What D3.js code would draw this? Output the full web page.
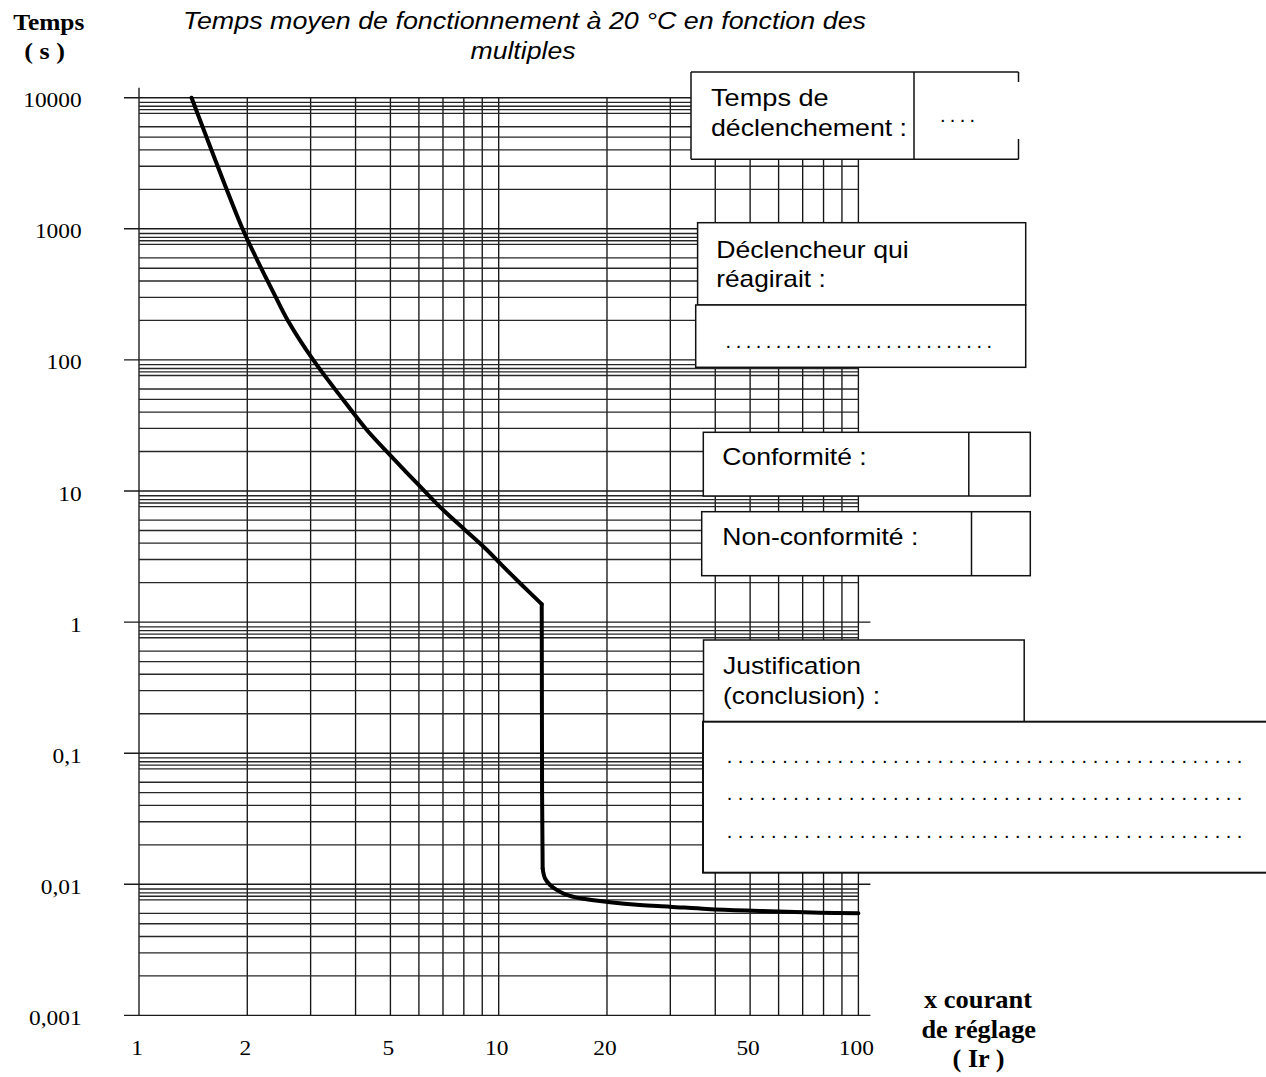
<!DOCTYPE html>
<html>
<head>
<meta charset="utf-8">
<script src="https://cdn.jsdelivr.net/npm/d3@7"></script>
<style>
  html, body { margin: 0; padding: 0; background: #fff; }
  svg { display: block; }
</style>
</head>
<body>
<svg id="chart" width="1266" height="1077"></svg>
<script>
// ---- Trip curve: multiple of setting current (x Ir) vs mean operating time (s) at 20 °C ----
const multiples = [1.40, 1.94, 2.11, 2.29, 2.40, 2.59, 3.05, 3.70, 4.30, 4.99, 6.11, 7.01, 8.06, 9.17, 10.3, 11.6,
                   13.17, 13.2, 13.25, 13.45, 13.89, 14.5, 15.45, 16.83, 20.4, 24.7, 29.9, 37.9, 48.9, 63.1, 78.2, 100];
const times     = [10000, 1000, 612, 388, 301, 201, 100, 49.4, 29.2, 18.8, 10.5, 7.16, 5.05, 3.66, 2.65, 1.92,
                   1.37, 0.05, 0.0132, 0.0111, 0.00988, 0.00906, 0.00829, 0.00782, 0.00729, 0.00695, 0.00675, 0.00648, 0.0063, 0.00618, 0.00607, 0.00601];
// index where the thermal branch ends and the instantaneous (magnetic) drop begins / ends
const thermalEnd = 16;
const magneticEnd = 18;

// ---- Axis ticks ----
const xTickValues = [1, 2, 5, 10, 20, 50, 100];
const xTickLabels = ["1", "2", "5", "10", "20", "50", "100"];
const yTickValues = [10000, 1000, 100, 10, 1, 0.1, 0.01, 0.001];
const yTickLabels = ["10000", "1000", "100", "10", "1", "0,1", "0,01", "0,001"];

// ---- Log-paper grid ----
const xGridValues = [1, 2, 3, 4, 5, 6, 7, 8, 9, 10, 20, 30, 40, 50, 60, 70, 80, 90, 100];
const decadeBases = [0.001, 0.01, 0.1, 1, 10, 100, 1000];
const minorSteps  = [2, 3, 4, 5, 6, 7.6, 8.1, 8.6, 9.2];

const svg = d3.select("#chart");

const x = d3.scaleLog().domain([1, 100]).range([139, 858.4]);
const y = d3.scaleLog().domain([10000, 0.001]).range([97.7, 1015.4]);

const SANS = "'Liberation Sans', Arial, Helvetica, sans-serif";
const SERIF = "'Liberation Serif', 'Times New Roman', Times, serif";

// text helper: fixed rendered width (textLength) with start/middle/end anchoring
function addText(g, str, o) {
  const t = g.append("text")
    .attr("font-family", o.family || SANS)
    .attr("font-size", o.size)
    .attr("font-weight", o.weight || "normal")
    .attr("font-style", o.style || "normal")
    .attr("fill", "#000")
    .attr("y", o.y)
    .text(str);
  let w = o.width;
  if (w == null) w = t.node().getComputedTextLength() * (o.stretch || 1);
  let x0 = o.x;
  if (o.anchor === "middle") x0 = o.x - w / 2;
  else if (o.anchor === "end") x0 = o.x - w;
  t.attr("x", x0)
   .attr("textLength", w)
   .attr("lengthAdjust", o.adjust || "spacingAndGlyphs");
  return t;
}

// ---------- grid ----------
const grid = svg.append("g").attr("class", "grid");

// vertical lines
grid.selectAll("line.v")
  .data(xGridValues)
  .join("line")
  .attr("class", "v")
  .attr("x1", d => x(d)).attr("x2", d => x(d))
  .attr("y1", d => d === 1 ? y(10000) - 10 : y(10000))
  .attr("y2", y(0.001))
  .attr("stroke", "#151515")
  .attr("stroke-width", 1.35);

// minor horizontal lines
const minorValues = decadeBases.flatMap(b => minorSteps.map(m => b * m));
grid.selectAll("line.hm")
  .data(minorValues)
  .join("line")
  .attr("class", "hm")
  .attr("x1", x(1)).attr("x2", x(100))
  .attr("y1", d => y(d)).attr("y2", d => y(d))
  .attr("stroke", "#262626")
  .attr("stroke-width", 1.35);

// major horizontal lines (with left tick stubs)
grid.selectAll("line.hM")
  .data(yTickValues)
  .join("line")
  .attr("class", "hM")
  .attr("x1", x(1) - 15).attr("x2", x(100) + 12)
  .attr("y1", d => y(d)).attr("y2", d => y(d))
  .attr("stroke", "#1a1a1a")
  .attr("stroke-width", 1.4);

// ---------- curve ----------
const pts = multiples.map((m, i) => [m, times[i]]);
const smooth = d3.line().x(d => x(d[0])).y(d => y(d[1])).curve(d3.curveCatmullRom.alpha(0.5));
const straight = d3.line().x(d => x(d[0])).y(d => y(d[1])).curve(d3.curveLinear);
const curveG = svg.append("g").attr("class", "trip-curve")
  .attr("fill", "none").attr("stroke", "#000").attr("stroke-width", 4)
  .attr("stroke-linejoin", "round").attr("stroke-linecap", "round");
curveG.append("path").attr("d", smooth(pts.slice(0, thermalEnd + 1)));
curveG.append("path").attr("d", straight(pts.slice(thermalEnd, magneticEnd + 1)));
curveG.append("path").attr("d", smooth(pts.slice(magneticEnd)));

// ---------- tick labels ----------
const yLab = svg.append("g").attr("class", "y-labels");
yTickValues.forEach((v, i) => {
  addText(yLab, yTickLabels[i], { x: 81.7, y: y(v) + 9.5, size: 20, family: SERIF, anchor: "end", stretch: 1.17 });
});
const xLab = svg.append("g").attr("class", "x-labels");
xTickValues.forEach((v, i) => {
  addText(xLab, xTickLabels[i], { x: x(v) - 2, y: 1055, size: 20, family: SERIF, anchor: "middle", stretch: 1.17 });
});

// ---------- axis titles ----------
const titles = svg.append("g");
addText(titles, "Temps", { x: 13.3, y: 29.5, size: 23, family: SERIF, weight: "bold", width: 71 });
addText(titles, "( s )", { x: 24.3, y: 59, size: 23, family: SERIF, weight: "bold", width: 40.7 });

addText(titles, "Temps moyen de fonctionnement à 20 °C en fonction des",
  { x: 524.5, y: 29.3, size: 23, style: "italic", anchor: "middle", width: 683 });
addText(titles, "multiples", { x: 523, y: 59, size: 23, style: "italic", anchor: "middle", width: 105 });

addText(titles, "x courant", { x: 978, y: 1008, size: 25, family: SERIF, weight: "bold", anchor: "middle", width: 108 });
addText(titles, "de réglage", { x: 978.7, y: 1038.3, size: 25, family: SERIF, weight: "bold", anchor: "middle", width: 114.6 });
addText(titles, "( Ir )", { x: 978.6, y: 1067, size: 25, family: SERIF, weight: "bold", anchor: "middle", width: 52 });

// ---------- answer boxes ----------
const boxes = svg.append("g").attr("class", "boxes");
function box(x0, y0, x1, y1, sw) {
  boxes.append("rect")
    .attr("x", x0).attr("y", y0).attr("width", x1 - x0).attr("height", y1 - y0)
    .attr("fill", "#fff").attr("stroke", "#111").attr("stroke-width", sw || 1.5);
}
function seg(x0, y0, x1, y1, sw) {
  boxes.append("line")
    .attr("x1", x0).attr("y1", y0).attr("x2", x1).attr("y2", y1)
    .attr("stroke", "#111").attr("stroke-width", sw || 1.5);
}

// Temps de déclenchement (right edge open in the middle)
boxes.append("rect").attr("x", 691).attr("y", 72).attr("width", 327.5).attr("height", 87.3).attr("fill", "#fff");
seg(691, 72, 1018.5, 72);
seg(691, 159.3, 1018.5, 159.3);
seg(691, 72, 691, 159.3);
seg(914, 72, 914, 159.3);
seg(1018.5, 72, 1018.5, 82);
seg(1018.5, 139, 1018.5, 159.3);

// Déclencheur qui réagirait
box(697.6, 222.7, 1025.7, 305);
box(695.7, 305, 1025.7, 367.3);

// Conformité / Non-conformité
box(703.3, 432.3, 1030.3, 496);
seg(968.8, 432.3, 968.8, 496);
box(701.7, 511.7, 1030.3, 575.7);
seg(971.5, 511.7, 971.5, 575.7);

// Justification
box(703.5, 640, 1024.2, 722);
box(703, 721.7, 1275, 872.7, 2);

const bt = svg.append("g").attr("class", "box-text");
addText(bt, "Temps de", { x: 711, y: 105.5, size: 24, width: 117.7 });
addText(bt, "déclenchement :", { x: 711, y: 135.5, size: 24, width: 196 });
addText(bt, "....", { x: 940, y: 122, size: 20, width: 35, adjust: "spacing" });

addText(bt, "Déclencheur qui", { x: 716.2, y: 258.3, size: 24, width: 192.5 });
addText(bt, "réagirait :", { x: 716.2, y: 286.7, size: 24, width: 109.5 });
addText(bt, ".".repeat(27), { x: 725.6, y: 348, size: 20, width: 266.4, adjust: "spacing" });

addText(bt, "Conformité :", { x: 722.3, y: 465, size: 24, width: 144.4 });
addText(bt, "Non-conformité :", { x: 722.3, y: 545, size: 24, width: 196 });

addText(bt, "Justification", { x: 723, y: 674, size: 24, width: 138 });
addText(bt, "(conclusion) :", { x: 723, y: 703.5, size: 24, width: 157 });
[762.5, 800, 837.5].forEach(yy => {
  addText(bt, ".".repeat(47), { x: 726.7, y: yy, size: 20, width: 515.7, adjust: "spacing" });
});
</script>
</body>
</html>
